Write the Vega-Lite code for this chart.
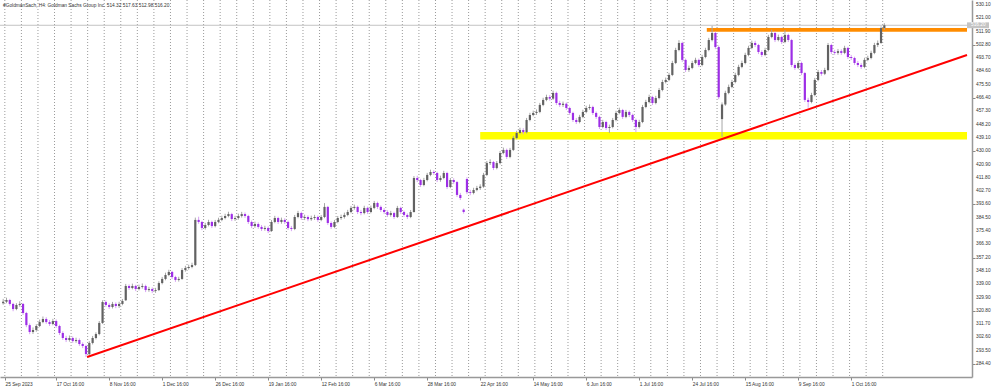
{
  "$schema": "https://vega.github.io/schema/vega-lite/v6.json",
  "width": 972,
  "height": 377,
  "padding": {"left": 0, "top": 0, "right": 28, "bottom": 11},
  "autosize": {"type": "none"},
  "background": "#ffffff",
  "title": {"text": "#GoldmanSach, H4:  Goldman Sachs Group Inc.  514.32 517.63 512.98 516.20", "anchor": "start", "frame": "group", "offset": -8, "fontSize": 4.8, "font": "Liberation Sans", "fontWeight": "normal", "color": "#333333", "dx": 3},
  "config": {
    "view": {"stroke": null},
    "font": "Liberation Sans",
    "axis": {"labelOverlap": false, "labelFlush": false, "labelBound": false, "grid": false, "title": null, "labelFontSize": 4.8, "labelFont": "Liberation Sans", "labelColor": "#333333", "tickSize": 3, "tickColor": "#888888", "domainColor": "#999999", "domainWidth": 1.5, "labelPadding": 1},
    "axisX": {"labelOverlap": false, "labelAlign": "left", "labelBaseline": "top"}
  },
  "datasets": {
    "grid": [{"g":0.5},{"g":5.5},{"g":10.5},{"g":15.5},{"g":20.5},{"g":25.5},{"g":30.5},{"g":35.5},{"g":40.5},{"g":45.5},{"g":50.5},{"g":55.5},{"g":60.5},{"g":65.5},{"g":70.5},{"g":75.5},{"g":80.5},{"g":85.5},{"g":90.5},{"g":95.5},{"g":100.5},{"g":105.5},{"g":110.5},{"g":115.5},{"g":120.5},{"g":125.5},{"g":130.5},{"g":135.5},{"g":140.5},{"g":145.5},{"g":150.5},{"g":155.5},{"g":160.5},{"g":165.5},{"g":170.5},{"g":175.5},{"g":180.5},{"g":185.5},{"g":190.5},{"g":195.5},{"g":200.5},{"g":205.5},{"g":210.5},{"g":215.5},{"g":220.5},{"g":225.5},{"g":230.5},{"g":235.5},{"g":240.5},{"g":245.5},{"g":250.5},{"g":255.5},{"g":260.5},{"g":265.5}],
    "yticks": [{"v":284.4},{"v":293.5},{"v":302.6},{"v":311.7},{"v":320.8},{"v":329.9},{"v":339.0},{"v":348.1},{"v":357.2},{"v":366.3},{"v":375.4},{"v":384.5},{"v":393.6},{"v":402.7},{"v":411.8},{"v":420.9},{"v":430.0},{"v":439.1},{"v":448.2},{"v":457.3},{"v":466.4},{"v":475.5},{"v":484.6},{"v":493.7},{"v":502.8},{"v":511.9},{"v":521.0},{"v":530.1}],
    "zones": [
      {"name":"support","x1":144.0,"x2":290.95,"y1":438.0,"y2":443.2,"col":"#ffff00"},
      {"name":"resistance","x1":212.4,"x2":290.95,"y1":511.8,"y2":514.4,"col":"#ff8c00"}
    ],
    "trend": [{"d":25.35,"v":289.2},{"d":290.95,"v":495.9}],
    "last": [{"d":290.95,"d2":297.6,"v":516.2,"v1":514.2,"v2":518.2,"t":"516.20"}],
    "bars": [
{"d":0,"o":326.0,"h":329.0,"l":325.0,"c":327.0},
{"d":1,"o":327.0,"h":329.8,"l":326.0,"c":328.2},
{"d":2,"o":328.2,"h":329.0,"l":324.3,"c":325.5},
{"d":3,"o":325.5,"h":326.3,"l":320.5,"c":322.0},
{"d":4,"o":322.0,"h":326.0,"l":321.2,"c":324.8},
{"d":5,"o":324.8,"h":327.3,"l":323.6,"c":325.5},
{"d":6,"o":325.5,"h":326.2,"l":318.0,"c":319.3},
{"d":7,"o":319.3,"h":320.1,"l":309.6,"c":311.0},
{"d":8,"o":311.0,"h":312.2,"l":304.8,"c":306.3},
{"d":9,"o":306.3,"h":309.4,"l":305.0,"c":307.7},
{"d":10,"o":307.7,"h":311.6,"l":306.5,"c":310.4},
{"d":11,"o":310.4,"h":314.8,"l":309.6,"c":313.1},
{"d":12,"o":313.1,"h":316.9,"l":312.3,"c":315.2},
{"d":13,"o":315.2,"h":316.4,"l":311.9,"c":313.1},
{"d":14,"o":313.1,"h":314.5,"l":310.4,"c":311.8},
{"d":15,"o":311.8,"h":315.3,"l":310.9,"c":313.8},
{"d":16,"o":313.8,"h":314.9,"l":309.1,"c":310.4},
{"d":17,"o":310.4,"h":311.3,"l":304.2,"c":305.6},
{"d":18,"o":305.6,"h":306.8,"l":300.9,"c":302.2},
{"d":19,"o":302.2,"h":303.7,"l":299.4,"c":300.8},
{"d":20,"o":300.8,"h":303.9,"l":299.7,"c":302.2},
{"d":21,"o":302.2,"h":303.3,"l":298.8,"c":300.1},
{"d":22,"o":300.1,"h":302.4,"l":298.9,"c":300.8},
{"d":23,"o":300.8,"h":301.9,"l":296.8,"c":298.1},
{"d":24,"o":298.1,"h":299.2,"l":295.3,"c":296.7},
{"d":25,"o":296.7,"h":297.6,"l":289.2,"c":291.2},
{"d":26,"o":291.2,"h":300.0,"l":290.5,"c":298.8},
{"d":27,"o":298.8,"h":303.6,"l":297.8,"c":302.2},
{"d":28,"o":302.2,"h":306.1,"l":301.2,"c":304.9},
{"d":29,"o":304.9,"h":313.8,"l":304.0,"c":312.5},
{"d":30,"o":312.5,"h":328.0,"l":311.8,"c":326.8},
{"d":31,"o":326.8,"h":327.9,"l":323.5,"c":324.8},
{"d":32,"o":324.8,"h":326.0,"l":322.0,"c":323.4},
{"d":33,"o":323.4,"h":326.9,"l":322.4,"c":325.5},
{"d":34,"o":325.5,"h":326.6,"l":322.6,"c":324.1},
{"d":35,"o":324.1,"h":327.0,"l":322.8,"c":325.5},
{"d":36,"o":325.5,"h":328.9,"l":324.6,"c":327.5},
{"d":37,"o":328.0,"h":339.2,"l":327.6,"c":337.8},
{"d":38,"o":337.8,"h":338.9,"l":335.1,"c":336.4},
{"d":39,"o":336.4,"h":339.4,"l":335.5,"c":337.8},
{"d":40,"o":337.8,"h":338.6,"l":334.3,"c":335.7},
{"d":41,"o":335.7,"h":338.7,"l":334.8,"c":337.1},
{"d":42,"o":337.1,"h":339.5,"l":336.0,"c":337.8},
{"d":43,"o":337.8,"h":338.7,"l":333.6,"c":335.0},
{"d":44,"o":335.0,"h":337.2,"l":333.8,"c":335.7},
{"d":45,"o":335.7,"h":336.8,"l":332.9,"c":334.4},
{"d":46,"o":334.4,"h":336.5,"l":333.1,"c":335.0},
{"d":47,"o":335.0,"h":341.0,"l":334.3,"c":339.8},
{"d":48,"o":339.8,"h":344.0,"l":338.9,"c":342.6},
{"d":49,"o":342.6,"h":346.9,"l":341.7,"c":345.3},
{"d":50,"o":345.3,"h":348.9,"l":344.5,"c":347.4},
{"d":51,"o":347.4,"h":348.2,"l":342.5,"c":343.9},
{"d":52,"o":343.9,"h":344.8,"l":340.6,"c":341.9},
{"d":53,"o":341.9,"h":344.1,"l":340.8,"c":342.6},
{"d":54,"o":342.6,"h":350.0,"l":342.0,"c":348.7},
{"d":55,"o":348.7,"h":351.6,"l":347.6,"c":350.1},
{"d":56,"o":350.1,"h":352.4,"l":349.0,"c":350.8},
{"d":57,"o":350.8,"h":353.7,"l":349.9,"c":352.1},
{"d":58,"o":352.1,"h":384.6,"l":351.4,"c":383.0},
{"d":59,"o":383.0,"h":385.2,"l":380.3,"c":381.6},
{"d":60,"o":381.6,"h":382.4,"l":376.0,"c":377.5},
{"d":61,"o":377.5,"h":381.0,"l":376.4,"c":379.5},
{"d":62,"o":379.5,"h":383.1,"l":378.6,"c":381.6},
{"d":63,"o":381.6,"h":382.5,"l":377.4,"c":378.8},
{"d":64,"o":378.8,"h":383.0,"l":377.9,"c":381.6},
{"d":65,"o":381.6,"h":384.5,"l":380.7,"c":383.0},
{"d":66,"o":383.0,"h":385.9,"l":382.1,"c":384.3},
{"d":67,"o":384.3,"h":387.2,"l":383.4,"c":385.7},
{"d":68,"o":385.7,"h":388.6,"l":384.8,"c":387.0},
{"d":69,"o":387.0,"h":387.9,"l":382.2,"c":383.6},
{"d":70,"o":383.6,"h":385.8,"l":382.3,"c":384.3},
{"d":71,"o":384.3,"h":387.3,"l":383.2,"c":385.7},
{"d":72,"o":385.7,"h":388.5,"l":384.6,"c":387.0},
{"d":73,"o":387.0,"h":388.1,"l":384.4,"c":385.7},
{"d":74,"o":385.7,"h":386.5,"l":380.2,"c":381.6},
{"d":75,"o":381.6,"h":382.6,"l":377.4,"c":378.8},
{"d":76,"o":378.8,"h":381.8,"l":377.6,"c":380.2},
{"d":77,"o":380.2,"h":381.3,"l":376.9,"c":378.2},
{"d":78,"o":378.2,"h":379.5,"l":375.4,"c":376.8},
{"d":79,"o":376.8,"h":379.0,"l":375.6,"c":377.5},
{"d":80,"o":377.5,"h":378.6,"l":374.0,"c":375.4},
{"d":81,"o":375.4,"h":382.9,"l":374.8,"c":381.6},
{"d":82,"o":381.6,"h":385.8,"l":380.7,"c":384.3},
{"d":83,"o":384.3,"h":385.2,"l":380.2,"c":381.6},
{"d":84,"o":381.6,"h":384.6,"l":380.4,"c":383.0},
{"d":85,"o":383.0,"h":384.1,"l":380.2,"c":381.6},
{"d":86,"o":381.6,"h":382.5,"l":376.2,"c":377.5},
{"d":87,"o":377.5,"h":378.9,"l":375.3,"c":376.8},
{"d":88,"o":376.8,"h":386.4,"l":376.0,"c":385.0},
{"d":89,"o":385.0,"h":389.2,"l":384.1,"c":387.7},
{"d":90,"o":387.7,"h":388.6,"l":383.0,"c":384.3},
{"d":91,"o":384.3,"h":386.6,"l":382.9,"c":385.0},
{"d":92,"o":385.0,"h":386.1,"l":382.1,"c":383.5},
{"d":93,"o":383.5,"h":385.9,"l":382.4,"c":384.3},
{"d":94,"o":384.3,"h":386.5,"l":383.0,"c":385.0},
{"d":95,"o":385.0,"h":386.0,"l":381.7,"c":383.0},
{"d":96,"o":383.0,"h":386.3,"l":382.1,"c":385.0},
{"d":97,"o":385.0,"h":394.5,"l":384.2,"c":391.9},
{"d":98,"o":391.9,"h":392.6,"l":379.6,"c":380.9},
{"d":99,"o":380.9,"h":382.0,"l":376.8,"c":378.2},
{"d":100,"o":378.2,"h":383.0,"l":377.3,"c":381.6},
{"d":101,"o":381.6,"h":385.7,"l":380.7,"c":384.3},
{"d":102,"o":384.3,"h":386.6,"l":383.1,"c":385.0},
{"d":103,"o":385.0,"h":388.0,"l":383.9,"c":386.4},
{"d":104,"o":386.4,"h":389.9,"l":385.5,"c":388.4},
{"d":105,"o":388.4,"h":392.6,"l":387.5,"c":391.2},
{"d":106,"o":391.2,"h":393.5,"l":390.0,"c":391.9},
{"d":107,"o":391.9,"h":392.8,"l":387.0,"c":388.4},
{"d":108,"o":388.4,"h":389.9,"l":386.2,"c":387.7},
{"d":109,"o":387.7,"h":392.7,"l":386.8,"c":391.2},
{"d":110,"o":391.2,"h":392.1,"l":387.0,"c":388.4},
{"d":111,"o":388.4,"h":392.8,"l":387.5,"c":391.2},
{"d":112,"o":391.2,"h":396.0,"l":390.3,"c":394.6},
{"d":113,"o":394.6,"h":395.5,"l":390.5,"c":391.9},
{"d":114,"o":391.9,"h":392.9,"l":388.4,"c":389.8},
{"d":115,"o":389.8,"h":391.0,"l":387.0,"c":388.4},
{"d":116,"o":388.4,"h":389.6,"l":385.0,"c":386.4},
{"d":117,"o":386.4,"h":389.2,"l":385.2,"c":387.7},
{"d":118,"o":387.7,"h":388.6,"l":383.6,"c":385.0},
{"d":119,"o":385.0,"h":392.6,"l":384.3,"c":391.2},
{"d":120,"o":391.2,"h":392.0,"l":387.0,"c":388.4},
{"d":121,"o":388.4,"h":389.4,"l":385.0,"c":386.4},
{"d":122,"o":386.4,"h":387.5,"l":383.6,"c":385.0},
{"d":123,"o":385.0,"h":389.8,"l":384.2,"c":388.4},
{"d":124,"o":388.4,"h":413.0,"l":388.0,"c":411.7},
{"d":125,"o":411.7,"h":413.2,"l":408.9,"c":410.3},
{"d":126,"o":410.3,"h":411.1,"l":405.5,"c":406.9},
{"d":127,"o":406.9,"h":411.8,"l":406.0,"c":410.3},
{"d":128,"o":410.3,"h":415.2,"l":409.4,"c":413.8},
{"d":129,"o":413.8,"h":417.4,"l":412.9,"c":415.8},
{"d":130,"o":415.8,"h":417.0,"l":413.7,"c":415.1},
{"d":131,"o":415.1,"h":416.0,"l":408.9,"c":410.3},
{"d":132,"o":410.3,"h":413.3,"l":409.1,"c":411.7},
{"d":133,"o":411.7,"h":416.6,"l":410.8,"c":415.1},
{"d":134,"o":415.1,"h":416.0,"l":404.1,"c":405.5},
{"d":135,"o":405.5,"h":411.7,"l":404.7,"c":410.3},
{"d":136,"o":410.3,"h":411.5,"l":407.5,"c":408.9},
{"d":137,"o":408.9,"h":409.7,"l":398.7,"c":400.1},
{"d":138,"o":400.1,"h":401.5,"l":396.6,"c":398.0},
{"d":139,"o":390.0,"h":390.8,"l":387.3,"c":388.4},
{"d":140,"o":411.0,"h":412.2,"l":400.6,"c":402.0},
{"d":141,"o":402.0,"h":403.6,"l":399.9,"c":401.4},
{"d":142,"o":401.4,"h":405.0,"l":400.5,"c":403.5},
{"d":143,"o":403.5,"h":406.3,"l":402.6,"c":404.8},
{"d":144,"o":404.8,"h":407.4,"l":403.5,"c":405.8},
{"d":145,"o":405.8,"h":415.2,"l":405.0,"c":413.8},
{"d":146,"o":413.8,"h":423.3,"l":413.0,"c":421.9},
{"d":147,"o":421.9,"h":424.5,"l":420.6,"c":422.6},
{"d":148,"o":422.6,"h":423.4,"l":417.1,"c":418.5},
{"d":149,"o":418.5,"h":423.3,"l":417.6,"c":421.9},
{"d":150,"o":421.9,"h":430.2,"l":421.0,"c":428.8},
{"d":151,"o":428.8,"h":432.5,"l":427.9,"c":430.9},
{"d":152,"o":430.9,"h":431.8,"l":424.7,"c":426.1},
{"d":153,"o":426.1,"h":432.3,"l":425.2,"c":430.9},
{"d":154,"o":430.9,"h":440.5,"l":430.1,"c":439.1},
{"d":155,"o":439.1,"h":444.0,"l":438.2,"c":442.5},
{"d":156,"o":442.5,"h":446.1,"l":441.6,"c":444.5},
{"d":157,"o":444.5,"h":445.8,"l":441.6,"c":443.0},
{"d":158,"o":443.0,"h":452.8,"l":442.2,"c":451.4},
{"d":159,"o":451.4,"h":456.3,"l":450.5,"c":454.8},
{"d":160,"o":454.8,"h":457.8,"l":453.9,"c":456.2},
{"d":161,"o":456.2,"h":458.6,"l":454.8,"c":456.9},
{"d":162,"o":456.9,"h":463.1,"l":456.0,"c":461.7},
{"d":163,"o":461.7,"h":466.6,"l":460.8,"c":465.1},
{"d":164,"o":465.1,"h":468.7,"l":464.2,"c":467.1},
{"d":165,"o":467.1,"h":468.5,"l":464.6,"c":466.0},
{"d":166,"o":466.0,"h":471.5,"l":465.1,"c":469.9},
{"d":167,"o":469.9,"h":470.8,"l":461.6,"c":463.0},
{"d":168,"o":463.0,"h":464.5,"l":460.3,"c":461.7},
{"d":169,"o":461.7,"h":464.0,"l":460.3,"c":462.5},
{"d":170,"o":462.5,"h":463.4,"l":458.2,"c":459.6},
{"d":171,"o":459.6,"h":460.5,"l":454.8,"c":456.2},
{"d":172,"o":456.2,"h":457.1,"l":450.0,"c":451.4},
{"d":173,"o":451.4,"h":452.8,"l":448.6,"c":450.0},
{"d":174,"o":450.0,"h":454.9,"l":449.1,"c":453.5},
{"d":175,"o":453.5,"h":458.4,"l":452.6,"c":456.9},
{"d":176,"o":456.9,"h":461.1,"l":456.0,"c":459.6},
{"d":177,"o":459.6,"h":462.0,"l":458.4,"c":460.3},
{"d":178,"o":460.3,"h":461.2,"l":454.8,"c":456.2},
{"d":179,"o":456.2,"h":457.2,"l":452.1,"c":453.5},
{"d":180,"o":453.5,"h":454.3,"l":445.2,"c":446.6},
{"d":181,"o":446.6,"h":451.5,"l":445.7,"c":450.0},
{"d":182,"o":450.0,"h":450.9,"l":444.5,"c":445.9},
{"d":183,"o":445.9,"h":448.2,"l":442.5,"c":446.6},
{"d":184,"o":446.6,"h":452.8,"l":445.7,"c":451.4},
{"d":185,"o":451.4,"h":457.7,"l":450.5,"c":456.2},
{"d":186,"o":456.2,"h":459.8,"l":455.3,"c":458.2},
{"d":187,"o":458.2,"h":459.0,"l":452.1,"c":453.5},
{"d":188,"o":453.5,"h":458.3,"l":452.6,"c":456.9},
{"d":189,"o":456.9,"h":457.9,"l":453.4,"c":454.8},
{"d":190,"o":454.8,"h":455.7,"l":450.0,"c":451.4},
{"d":191,"o":451.4,"h":452.3,"l":443.0,"c":446.6},
{"d":192,"o":446.6,"h":451.5,"l":445.6,"c":450.0},
{"d":193,"o":450.0,"h":461.7,"l":449.2,"c":460.3},
{"d":194,"o":460.3,"h":465.2,"l":459.4,"c":463.7},
{"d":195,"o":463.7,"h":468.7,"l":462.8,"c":467.1},
{"d":196,"o":467.1,"h":468.0,"l":461.6,"c":463.0},
{"d":197,"o":463.0,"h":467.9,"l":462.1,"c":466.4},
{"d":198,"o":466.4,"h":473.3,"l":465.5,"c":471.9},
{"d":199,"o":471.9,"h":478.9,"l":471.0,"c":477.4},
{"d":200,"o":477.4,"h":480.4,"l":476.4,"c":478.8},
{"d":201,"o":478.8,"h":483.7,"l":477.9,"c":482.2},
{"d":202,"o":482.2,"h":491.9,"l":481.4,"c":490.4},
{"d":203,"o":490.4,"h":500.8,"l":489.6,"c":499.3},
{"d":204,"o":499.3,"h":506.0,"l":498.4,"c":504.1},
{"d":205,"o":504.1,"h":505.0,"l":491.1,"c":492.5},
{"d":206,"o":492.5,"h":493.4,"l":484.2,"c":485.6},
{"d":207,"o":485.6,"h":488.6,"l":484.3,"c":487.0},
{"d":208,"o":487.0,"h":491.9,"l":486.1,"c":490.4},
{"d":209,"o":490.4,"h":494.0,"l":489.5,"c":492.5},
{"d":210,"o":492.5,"h":493.4,"l":487.6,"c":489.0},
{"d":211,"o":489.0,"h":496.0,"l":488.1,"c":494.5},
{"d":212,"o":494.5,"h":500.8,"l":493.6,"c":499.3},
{"d":213,"o":499.3,"h":507.6,"l":498.4,"c":506.1},
{"d":214,"o":506.1,"h":515.8,"l":505.2,"c":510.9},
{"d":215,"o":510.9,"h":511.8,"l":499.9,"c":501.3},
{"d":216,"o":501.3,"h":502.5,"l":465.6,"c":467.0},
{"d":217,"o":452.0,"h":463.4,"l":439.8,"c":462.0},
{"d":218,"o":462.0,"h":471.4,"l":461.1,"c":469.9},
{"d":219,"o":469.9,"h":475.6,"l":469.0,"c":474.0},
{"d":220,"o":474.0,"h":478.9,"l":473.1,"c":477.4},
{"d":221,"o":477.4,"h":483.7,"l":476.5,"c":482.2},
{"d":222,"o":482.2,"h":489.2,"l":481.3,"c":487.7},
{"d":223,"o":487.7,"h":492.0,"l":486.8,"c":490.4},
{"d":224,"o":490.4,"h":497.4,"l":489.5,"c":495.9},
{"d":225,"o":495.9,"h":502.2,"l":495.0,"c":500.7},
{"d":226,"o":500.7,"h":505.7,"l":499.8,"c":504.1},
{"d":227,"o":504.1,"h":505.6,"l":501.3,"c":502.7},
{"d":228,"o":502.7,"h":503.5,"l":496.5,"c":497.9},
{"d":229,"o":497.9,"h":499.1,"l":494.5,"c":495.9},
{"d":230,"o":495.9,"h":500.8,"l":495.0,"c":499.3},
{"d":231,"o":499.3,"h":509.7,"l":498.4,"c":508.2},
{"d":232,"o":508.2,"h":513.2,"l":507.3,"c":510.9},
{"d":233,"o":510.9,"h":511.9,"l":504.7,"c":506.1},
{"d":234,"o":506.1,"h":509.8,"l":505.2,"c":508.2},
{"d":235,"o":508.2,"h":509.1,"l":503.4,"c":504.8},
{"d":236,"o":504.8,"h":512.8,"l":503.9,"c":509.6},
{"d":237,"o":509.6,"h":510.5,"l":504.7,"c":506.1},
{"d":238,"o":506.1,"h":506.9,"l":487.6,"c":489.0},
{"d":239,"o":489.0,"h":490.3,"l":485.6,"c":487.0},
{"d":240,"o":487.0,"h":491.9,"l":486.1,"c":490.4},
{"d":241,"o":490.4,"h":491.3,"l":482.1,"c":483.5},
{"d":242,"o":483.5,"h":484.3,"l":463.7,"c":465.1},
{"d":243,"o":465.1,"h":466.6,"l":459.8,"c":463.7},
{"d":244,"o":463.7,"h":470.0,"l":462.8,"c":468.5},
{"d":245,"o":468.5,"h":480.2,"l":467.6,"c":478.8},
{"d":246,"o":478.8,"h":485.7,"l":477.9,"c":484.2},
{"d":247,"o":484.2,"h":485.6,"l":481.6,"c":483.0},
{"d":248,"o":483.0,"h":487.1,"l":482.1,"c":485.6},
{"d":249,"o":485.6,"h":504.1,"l":484.8,"c":502.7},
{"d":250,"o":502.7,"h":503.6,"l":496.5,"c":497.9},
{"d":251,"o":497.9,"h":499.4,"l":495.9,"c":497.3},
{"d":252,"o":497.3,"h":500.0,"l":496.0,"c":498.5},
{"d":253,"o":498.5,"h":499.8,"l":495.9,"c":497.3},
{"d":254,"o":497.3,"h":502.2,"l":496.4,"c":500.7},
{"d":255,"o":500.7,"h":501.5,"l":493.1,"c":494.5},
{"d":256,"o":494.5,"h":495.9,"l":492.4,"c":493.8},
{"d":257,"o":493.8,"h":494.7,"l":489.0,"c":490.4},
{"d":258,"o":490.4,"h":491.8,"l":487.6,"c":489.0},
{"d":259,"o":489.0,"h":490.3,"l":486.3,"c":487.7},
{"d":260,"o":487.7,"h":494.0,"l":486.8,"c":492.5},
{"d":261,"o":492.5,"h":495.4,"l":491.6,"c":493.8},
{"d":262,"o":493.8,"h":498.8,"l":492.9,"c":497.3},
{"d":263,"o":497.3,"h":504.2,"l":496.4,"c":502.7},
{"d":264,"o":502.7,"h":505.8,"l":501.3,"c":504.1},
{"d":265,"o":504.1,"h":515.5,"l":503.5,"c":514.3},
{"d":266,"o":514.32,"h":517.63,"l":512.98,"c":516.2}
    ]
  },
  "layer": [
    {
      "data": {"name": "grid"},
      "mark": {"type": "rule", "color": "#9a9a9a", "strokeWidth": 1, "strokeDash": [1, 2]},
      "encoding": {
        "x": {
          "field": "g",
          "type": "quantitative",
          "scale": {"domain": [0.55, 290.95], "nice": false, "zero": false},
          "axis": {
            "orient": "bottom",
            "values": [0.55, 16, 32, 48, 64, 80, 96, 112, 128, 144, 160, 176, 192, 208, 224, 240, 256],
            "labelExpr": "['25 Sep 2023','17 Oct 16:00','8 Nov 16:00','1 Dec 16:00','26 Dec 16:00','19 Jan 16:00','12 Feb 16:00','6 Mar 16:00','28 Mar 16:00','22 Apr 16:00','14 May 16:00','6 Jun 16:00','1 Jul 16:00','24 Jul 16:00','15 Aug 16:00','9 Sep 16:00','1 Oct 16:00'][round(datum.value/16)]",
            "labelOverlap": false
          }
        }
      }
    },
    {
      "data": {"name": "last"},
      "mark": {"type": "rule", "color": "#c4c4c4", "strokeWidth": 1},
      "encoding": {
        "y": {
          "field": "v",
          "type": "quantitative",
          "scale": {"domain": [275.5, 533.5], "nice": false, "zero": false},
          "axis": {
            "orient": "right",
            "values": [284.4, 293.5, 302.6, 311.7, 320.8, 329.9, 339.0, 348.1, 357.2, 366.3, 375.4, 384.5, 393.6, 402.7, 411.8, 420.9, 430.0, 439.1, 448.2, 457.3, 466.4, 475.5, 484.6, 493.7, 502.8, 511.9, 521.0, 530.1],
            "labels": false
          }
        }
      }
    },
    {
      "data": {"name": "yticks"},
      "mark": {"type": "text", "align": "left", "baseline": "middle", "dx": 4, "fontSize": 4.8, "color": "#333333", "font": "Liberation Sans"},
      "encoding": {
        "x": {"value": "width"},
        "y": {"field": "v", "type": "quantitative", "scale": {"domain": [275.5, 533.5], "nice": false, "zero": false}},
        "text": {"field": "v", "type": "quantitative", "format": ".2f"}
      }
    },
    {
      "data": {"name": "zones"},
      "mark": {"type": "rect"},
      "encoding": {
        "x": {"field": "x1", "type": "quantitative", "scale": {"domain": [0.55, 290.95], "nice": false, "zero": false}},
        "x2": {"field": "x2"},
        "y": {"field": "y1", "type": "quantitative", "scale": {"domain": [275.5, 533.5], "nice": false, "zero": false}},
        "y2": {"field": "y2"},
        "color": {"field": "col", "type": "nominal", "scale": null}
      }
    },
    {
      "data": {"name": "bars"},
      "mark": {"type": "rule", "strokeWidth": 1},
      "encoding": {
        "x": {"field": "d", "type": "quantitative", "scale": {"domain": [0.55, 290.95], "nice": false, "zero": false}},
        "y": {"field": "l", "type": "quantitative", "scale": {"domain": [275.5, 533.5], "nice": false, "zero": false}},
        "y2": {"field": "h"},
        "color": {"condition": {"test": "datum.c >= datum.o", "value": "#a6a6a6"}, "value": "#d7a3f3"}
      }
    },
    {
      "data": {"name": "bars"},
      "mark": {"type": "bar", "width": 2.2},
      "encoding": {
        "x": {"field": "d", "type": "quantitative", "scale": {"domain": [0.55, 290.95], "nice": false, "zero": false}},
        "y": {"field": "o", "type": "quantitative", "scale": {"domain": [275.5, 533.5], "nice": false, "zero": false}},
        "y2": {"field": "c"},
        "color": {"condition": {"test": "datum.c >= datum.o", "value": "#626262"}, "value": "#9d2ee6"}
      }
    },
    {
      "data": {"name": "trend"},
      "mark": {"type": "line", "color": "#ff0000", "strokeWidth": 2, "clip": true},
      "encoding": {
        "x": {"field": "d", "type": "quantitative", "scale": {"domain": [0.55, 290.95], "nice": false, "zero": false}},
        "y": {"field": "v", "type": "quantitative", "scale": {"domain": [275.5, 533.5], "nice": false, "zero": false}}
      }
    },
    {
      "data": {"name": "last"},
      "mark": {"type": "rect", "color": "#c4c4c4"},
      "encoding": {
        "x": {"field": "d", "type": "quantitative", "scale": {"domain": [0.55, 290.95], "nice": false, "zero": false}},
        "x2": {"field": "d2"},
        "y": {"field": "v1", "type": "quantitative", "scale": {"domain": [275.5, 533.5], "nice": false, "zero": false}},
        "y2": {"field": "v2"}
      }
    },
    {
      "data": {"name": "last"},
      "mark": {"type": "text", "align": "left", "baseline": "middle", "dx": 4, "fontSize": 4.8, "color": "#ffffff", "font": "Liberation Sans"},
      "encoding": {
        "x": {"field": "d", "type": "quantitative", "scale": {"domain": [0.55, 290.95], "nice": false, "zero": false}},
        "y": {"field": "v", "type": "quantitative", "scale": {"domain": [275.5, 533.5], "nice": false, "zero": false}},
        "text": {"field": "t"}
      }
    }
  ]
}
